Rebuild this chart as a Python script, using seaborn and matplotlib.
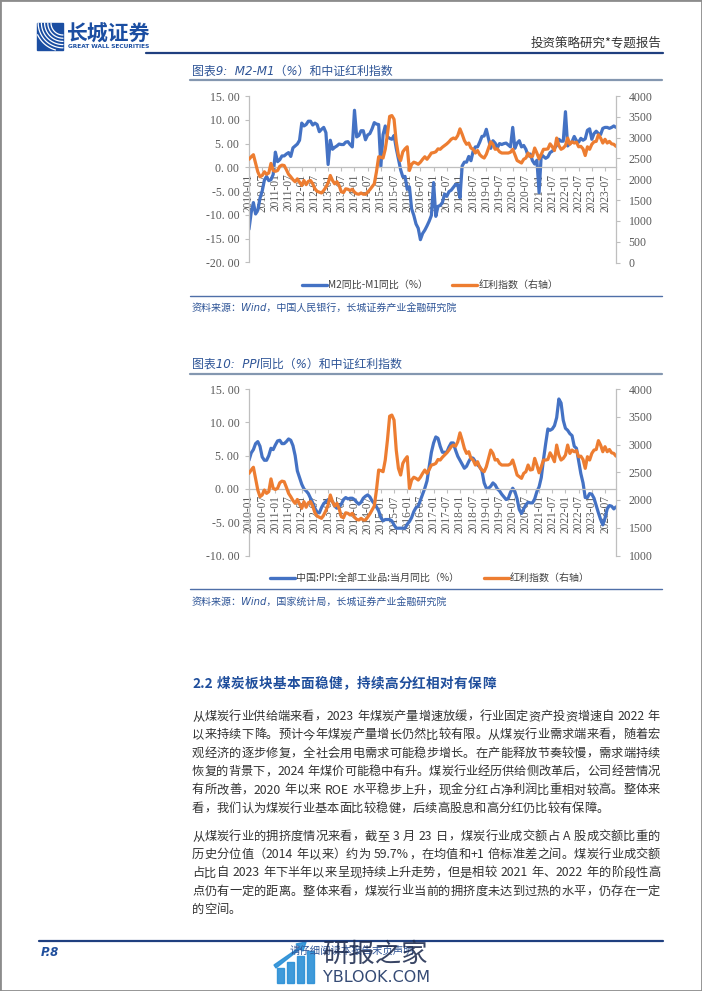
import re
import numpy as np
import pandas as pd
import matplotlib
matplotlib.use("Agg")
import matplotlib.pyplot as plt
import seaborn as sns
from matplotlib.lines import Line2D
from matplotlib.patches import Rectangle, Polygon

# ---------------- data ----------------
months = pd.date_range("2010-01-01", periods=168, freq="MS").strftime("%Y-%m").tolist()
tick_labels = months[::6]

m2_minus_m1 = [
    -13.0, -9.5, -7.4, -9.8, -9.0, -6.5, -5.0, -2.7, -1.9, -2.8, -2.6, -1.5,
    3.2, 1.2, 1.6, 2.4, 2.4, 2.8, 3.1, 2.3, 4.1, 4.5, 4.9, 5.7,
    9.3, 8.7, 9.0, 9.7, 9.7, 8.9, 9.3, 9.0, 7.5, 8.0, 8.4, 7.3,
    0.6, 5.7, 3.8, 4.2, 4.5, 4.9, 4.8, 4.8, 5.3, 5.4, 4.8, 4.3,
    12.0, 6.4, 6.7, 7.7, 7.7, 5.8, 6.8, 7.1, 8.1, 9.4, 9.1, 9.0,
    0.2, 6.9, 8.7, 6.4, 6.1, 5.9, 6.7, 4.0, 1.7, -0.5, -2.0, -1.9,
    -4.6, -4.1, -8.7, -10.1, -11.9, -12.8, -15.2, -13.9, -13.2, -12.3, -11.3, -10.1,
    -3.2, -10.3, -8.2, -8.0, -7.4, -5.6, -6.1, -5.1, -4.8, -4.2, -3.6, -3.6,
    -6.4, 0.3, 1.1, 1.1, 2.3, 1.4, 3.4, 4.3, 4.3, 5.3, 6.5, 6.6,
    8.0, 6.0, 4.0, 5.6, 5.1, 4.1, 5.0, 4.8, 5.0, 5.1, 4.7, 4.3,
    8.4, 4.0, 5.1, 5.6, 4.3, 4.6, 3.8, 2.4, 2.8, 1.4, 0.7, 1.5,
    -5.3, 2.7, 2.3, 1.9, 2.2, 3.1, 3.4, 4.0, 4.6, 5.9, 5.5, 5.5,
    11.7, 4.5, 5.0, 5.4, 6.5, 5.6, 5.3, 6.1, 5.7, 6.0, 7.8, 8.1,
    5.9, 7.1, 7.6, 7.1, 6.9, 8.2, 8.4, 8.4, 8.2, 8.4, 8.7, 8.4,
]

ppi_yoy = [
    4.3, 5.4, 5.9, 6.8, 7.1, 6.4, 4.8, 4.3, 4.3, 5.0, 6.1, 5.9,
    6.6, 7.2, 7.3, 6.8, 6.8, 7.1, 7.5, 7.3, 6.5, 5.0, 2.7, 1.7,
    0.7, 0.0, -0.3, -0.7, -1.4, -2.1, -2.9, -3.5, -3.6, -2.8, -2.2, -1.9,
    -1.6, -1.6, -1.9, -2.6, -2.9, -2.7, -2.3, -1.6, -1.3, -1.5, -1.4, -1.4,
    -1.6, -2.0, -2.3, -2.0, -1.4, -1.1, -0.9, -1.2, -1.8, -2.2, -2.7, -3.3,
    -4.3, -4.8, -4.6, -4.6, -4.6, -4.8, -5.4, -5.9, -5.9, -5.9, -5.9, -5.9,
    -5.3, -4.9, -4.3, -3.4, -2.8, -2.6, -1.7, -0.8, 0.1, 1.2, 3.3, 5.5,
    6.9, 7.8, 7.6, 6.4, 5.5, 5.5, 5.5, 6.3, 6.9, 6.9, 5.8, 4.9,
    4.3, 3.7, 3.1, 3.4, 4.1, 4.7, 4.6, 4.1, 3.6, 3.3, 2.7, 0.9,
    0.1, 0.1, 0.4, 0.9, 0.6, 0.0, -0.3, -0.8, -1.2, -1.6, -1.4, -0.5,
    0.1, -0.4, -1.5, -3.1, -3.7, -3.0, -2.4, -2.0, -2.1, -2.1, -1.5, -0.4,
    0.3, 1.7, 4.4, 6.8, 9.0, 8.8, 9.0, 9.5, 10.7, 13.5, 12.9, 10.3,
    9.1, 8.8, 8.3, 8.0, 6.4, 6.1, 4.2, 2.3, 0.9, -1.3, -1.3, -0.7,
    -0.8, -1.4, -2.5, -3.6, -4.6, -5.4, -4.4, -3.0, -2.5, -2.6, -3.0, -2.7,
]

dividend_index = [
    2480, 2540, 2590, 2390, 2180, 2060, 2090, 2180, 2120, 2150, 2380, 2210,
    2190, 2210, 2310, 2340, 2330, 2230, 2120, 2060, 1990, 1940, 2010, 1930,
    1850, 1970, 1870, 1950, 1970, 1890, 1770, 1710, 1690, 1670, 1730, 1810,
    1910, 2090, 1970, 1890, 1940, 1850, 1700, 1680, 1770, 1760, 1730, 1760,
    1690, 1650, 1640, 1670, 1640, 1640, 1690, 1750, 1820, 1890, 2180, 2540,
    2530, 2510, 2720, 3080, 3510, 3530, 3440, 2900, 2570, 2450, 2660, 2730,
    2780, 2210, 2360, 2410, 2390, 2360, 2410, 2480, 2540, 2480, 2550, 2630,
    2640, 2660, 2730, 2720, 2770, 2810, 2850, 2900, 2960, 2990, 2970, 3050,
    3210, 3080, 2930, 2840, 2870, 2750, 2720, 2630, 2690, 2590, 2540, 2510,
    2600, 2750, 2900, 2840, 2720, 2730, 2660, 2630, 2630, 2630, 2630, 2650,
    2720, 2590, 2450, 2420, 2390, 2480, 2510, 2630, 2540, 2550, 2750, 2630,
    2490, 2600, 2720, 2720, 2730, 2850, 2780, 2690, 2990, 2810, 2720, 2750,
    2810, 2990, 2840, 2900, 2870, 2890, 2780, 2790, 2730, 2570, 2780, 2720,
    2840, 2900, 2910, 3070, 2990, 2870, 2960, 2870, 2910, 2850, 2840, 2790,
]

left_ticks_1 = [-20, -15, -10, -5, 0, 5, 10, 15]
right_ticks_1 = [0, 500, 1000, 1500, 2000, 2500, 3000, 3500, 4000]
left_ticks_2 = [-10, -5, 0, 5, 10, 15]
right_ticks_2 = [1000, 1500, 2000, 2500, 3000, 3500, 4000]

names_1 = ["M2同比-M1同比（%）", "红利指数（右轴）"]
names_2 = ["中国:PPI:全部工业品:当月同比（%）", "红利指数（右轴）"]

title_1 = "图表9:  M2-M1（%）和中证红利指数"
title_2 = "图表10:  PPI同比（%）和中证红利指数"
source_1 = "资料来源：Wind，中国人民银行，长城证券产业金融研究院"
source_2 = "资料来源：Wind，国家统计局，长城证券产业金融研究院"

heading = "2.2 煤炭板块基本面稳健，持续高分红相对有保障"
para_1 = [
    "从煤炭行业供给端来看，2023 年煤炭产量增速放缓，行业固定资产投资增速自 2022 年",
    "以来持续下降。预计今年煤炭产量增长仍然比较有限。从煤炭行业需求端来看，随着宏",
    "观经济的逐步修复，全社会用电需求可能稳步增长。在产能释放节奏较慢，需求端持续",
    "恢复的背景下，2024 年煤价可能稳中有升。煤炭行业经历供给侧改革后，公司经营情况",
    "有所改善，2020 年以来 ROE 水平稳步上升，现金分红占净利润比重相对较高。整体来",
    "看，我们认为煤炭行业基本面比较稳健，后续高股息和高分红仍比较有保障。",
]
para_2 = [
    "从煤炭行业的拥挤度情况来看，截至 3 月 23 日，煤炭行业成交额占 A 股成交额比重的",
    "历史分位值（2014 年以来）约为 59.7%，在均值和+1 倍标准差之间。煤炭行业成交额",
    "占比自 2023 年下半年以来呈现持续上升走势，但是相较 2021 年、2022 年的阶段性高",
    "点仍有一定的距离。整体来看，煤炭行业当前的拥挤度未达到过热的水平，仍存在一定",
    "的空间。",
]

# ---------------- style ----------------
sns.set_theme(style="white")
plt.rcParams["font.family"] = ["Noto Sans CJK SC", "DejaVu Sans"]
plt.rcParams["axes.unicode_minus"] = False

BLUE = "#4472C4"
ORANGE = "#ED7D31"
SPINE = "#BFBFBF"
TICKC = "#595959"
TITLEC = "#2F5597"
NAVY = "#1F3F7F"
SERIF = ["Liberation Serif", "DejaVu Serif"]

W, H = 702, 991
fig = plt.figure(figsize=(W / 100, H / 100), dpi=100)
fig.patch.set_facecolor("white")


def fx(px):
    return px / W


def fy(py):
    return 1 - py / H


def hline(x0, x1, y, color, lw):
    fig.add_artist(Line2D([fx(x0), fx(x1)], [fy(y), fy(y)], color=color, lw=lw,
                          transform=fig.transFigure))


# ---------------- charts ----------------
def chart(top_px, left_vals, lticks, rticks, names, legend_y):
    h = 166.5
    ax = fig.add_axes([fx(249), fy(top_px + h), (616 - 249) / W, h / H])
    xs = np.arange(len(months))
    df = pd.DataFrame({"x": xs, "left": left_vals, "right": dividend_index})
    sns.lineplot(data=df, x="x", y="left", ax=ax, color=BLUE, lw=2.3, legend=False)
    ax2 = ax.twinx()
    sns.lineplot(data=df, x="x", y="right", ax=ax2, color=ORANGE, lw=2.3, legend=False)

    # left axis
    ax.set_xlim(0, len(months) - 1)
    ax.set_ylim(min(lticks), max(lticks))
    ax.set_xlabel("")
    ax.set_ylabel("")
    ax.spines["bottom"].set_position(("data", 0))
    for s in ["top", "right"]:
        ax.spines[s].set_visible(False)
    for s in ["left", "bottom"]:
        ax.spines[s].set_color(SPINE)
        ax.spines[s].set_linewidth(0.9)
    ax.tick_params(axis="y", left=True, length=3, width=0.8, color=SPINE, pad=4,
                   direction="out")
    ax.tick_params(axis="x", bottom=True, length=3, width=0.8, color=SPINE, pad=1.5,
                   direction="out", labelrotation=90)
    ax.set_yticks(lticks)
    ax.set_yticklabels([f"{v:.2f}".replace(".", ". ") for v in lticks],
                       fontfamily=SERIF, fontsize=8.5, color=TICKC)
    ax.set_xticks(xs[::6])
    ax.set_xticklabels(tick_labels, fontfamily=SERIF, fontsize=8.3, color=TICKC,
                       rotation=90, ha="center", va="top")
    ax.grid(False)

    # right axis
    ax2.set_ylim(min(rticks), max(rticks))
    ax2.set_ylabel("")
    ax2.set_xlabel("")
    ax2.xaxis.set_visible(False)
    for s in ["top", "left", "bottom"]:
        ax2.spines[s].set_visible(False)
    ax2.spines["right"].set_color(SPINE)
    ax2.spines["right"].set_linewidth(0.9)
    ax2.tick_params(axis="y", right=True, length=3, width=0.8, color=SPINE, pad=6,
                    direction="out")
    ax2.set_yticks(rticks)
    ax2.set_yticklabels([str(v) for v in rticks], fontfamily=SERIF, fontsize=8.5,
                        color=TICKC)
    ax2.grid(False)

    handles = [Line2D([], [], color=BLUE, lw=2.4), Line2D([], [], color=ORANGE, lw=2.4)]
    fig.legend(handles=handles, labels=names, loc="center",
               bbox_to_anchor=(fx(430), fy(legend_y)), ncol=2, frameon=False,
               fontsize=7.2, handlelength=2.5, handletextpad=0.15,
               columnspacing=2.4, labelcolor="#404040")
    return ax, ax2


chart(96, m2_minus_m1, left_ticks_1, right_ticks_1, names_1, 285)
chart(389, ppi_yoy, left_ticks_2, right_ticks_2, names_2, 578)

# ---------------- page furniture ----------------
fig.add_artist(Rectangle((0, 0), 1, 1, fill=False, ec="#8c8c8c", lw=2.0,
                         transform=fig.transFigure))

# logo
fig.add_artist(Rectangle((fx(37), fy(50)), 26 / W, 27 / H, color="#1B4EA2",
                         transform=fig.transFigure))
for k in range(6):
    r = 12 + 3.2 * k
    ang = np.linspace(np.pi / 2, np.pi, 30)
    px = 63 + r * np.cos(ang)
    py = 23 + r * np.sin(ang)
    m = (px >= 37) & (py <= 50)
    fig.add_artist(Line2D(fx(px[m]), fy(py[m]), color="white", lw=0.9,
                          transform=fig.transFigure))

fig.text(fx(67), fy(34), "长城证券", fontsize=15, weight="bold", color="#1B4EA2",
         va="center", ha="left")
fig.text(fx(68), fy(46.5), "GREAT WALL SECURITIES", fontsize=4.2, weight="bold",
         color="#1B4EA2", va="center", ha="left", family=["DejaVu Sans"])
fig.text(fx(661), fy(43), "投资策略研究*专题报告", fontsize=9, color="#333333",
         va="center", ha="right")
hline(146, 663, 52.5, NAVY, 1.6)

for ty, ly, sy, stxt, sep, ttl in [(71, 80, 309, source_1, 296, title_1),
                                    (364.5, 373.5, 603, source_2, 589, title_2)]:
    fig.text(fx(192), fy(ty), ttl, fontsize=8.6, color=TITLEC, style="italic",
             va="center", ha="left", family=["DejaVu Sans", "Noto Sans CJK SC"])
    hline(190, 662, ly, "#8497B0", 1.6)
    hline(190, 662, sep, "#4F6FA8", 1.0)
    fig.text(fx(192), fy(sy), stxt, fontsize=7.2, color=TITLEC, style="italic",
             va="center", ha="left", family=["DejaVu Sans", "Noto Sans CJK SC"])

# ---------------- body text ----------------
renderer = fig.canvas.get_renderer()
TOK = re.compile(r"[A-Za-z0-9.%+]+| |.")


def text_line(s, x0, x1, yc, size, color, weight="normal", justify=True, gap=0.0):
    spx = size / 72 * 100
    base = yc + 0.36 * spx
    items = []
    for t in TOK.findall(s):
        if t == " ":
            items.append((None, 0.28 * spx))
        else:
            a = fig.text(0, fy(base), t, fontsize=size, color=color, weight=weight,
                         ha="left", va="baseline")
            items.append((a, a.get_window_extent(renderer).width))
    total = sum(w for _, w in items)
    n = len(items)
    g = (x1 - x0 - total) / (n - 1) if (justify and n > 1) else gap
    x = x0
    for a, w in items:
        if a is not None:
            a.set_x(fx(x))
        x += w + g
    return g


text_line(heading, 192, 502, 683, 9.8, "#1F4E9C", weight="bold", justify=False, gap=0.3)

BODY = "#333333"
gaps = []
for i, line in enumerate(para_1):
    last = i == len(para_1) - 1
    g = text_line(line, 192, 660, 715.5 + 18.4 * i, 8.8, BODY, justify=not last,
                  gap=np.mean(gaps) if gaps else 0)
    if not last:
        gaps.append(g)
for i, line in enumerate(para_2):
    last = i == len(para_2) - 1
    text_line(line, 192, 660, 835.5 + 18.2 * i, 8.8, BODY, justify=not last,
              gap=np.mean(gaps))

# ---------------- footer ----------------
hline(39, 663, 941, NAVY, 1.6)
fig.text(fx(41), fy(952), "P.8", fontsize=8.5, weight="bold", style="italic",
         color="#1F4E9C", va="center", ha="left", family=["DejaVu Sans"])
fig.text(fx(352), fy(951), "请仔细阅读本报告末页声明", fontsize=7.5, style="italic",
         color=TITLEC, va="center", ha="center")
for i, (x0, top) in enumerate([(277, 968), (287, 962), (297, 956), (307, 951)]):
    fig.add_artist(Rectangle((fx(x0), fy(983)), 7 / W, (983 - top) / H,
                             color="#2A8FD6", alpha=0.9, transform=fig.transFigure))
fig.add_artist(Polygon([[fx(274), fy(965)], [fx(300), fy(947)], [fx(296), fy(944)],
                        [fx(306), fy(942)], [fx(303), fy(951)], [fx(300), fy(949)],
                        [fx(276), fy(968)]], closed=True, color="#2A8FD6",
                       alpha=0.9, transform=fig.transFigure))
fig.text(fx(322), fy(954), "研报之家", fontsize=19, color="#1D2B4F", alpha=0.88,
         va="center", ha="left")
fig.text(fx(323), fy(977), "YBLOOK.COM", fontsize=11.5, color="#1F3766", alpha=0.9,
         va="center", ha="left", family=["DejaVu Sans"])

fig.savefig("out.png", dpi=100, facecolor="white")
